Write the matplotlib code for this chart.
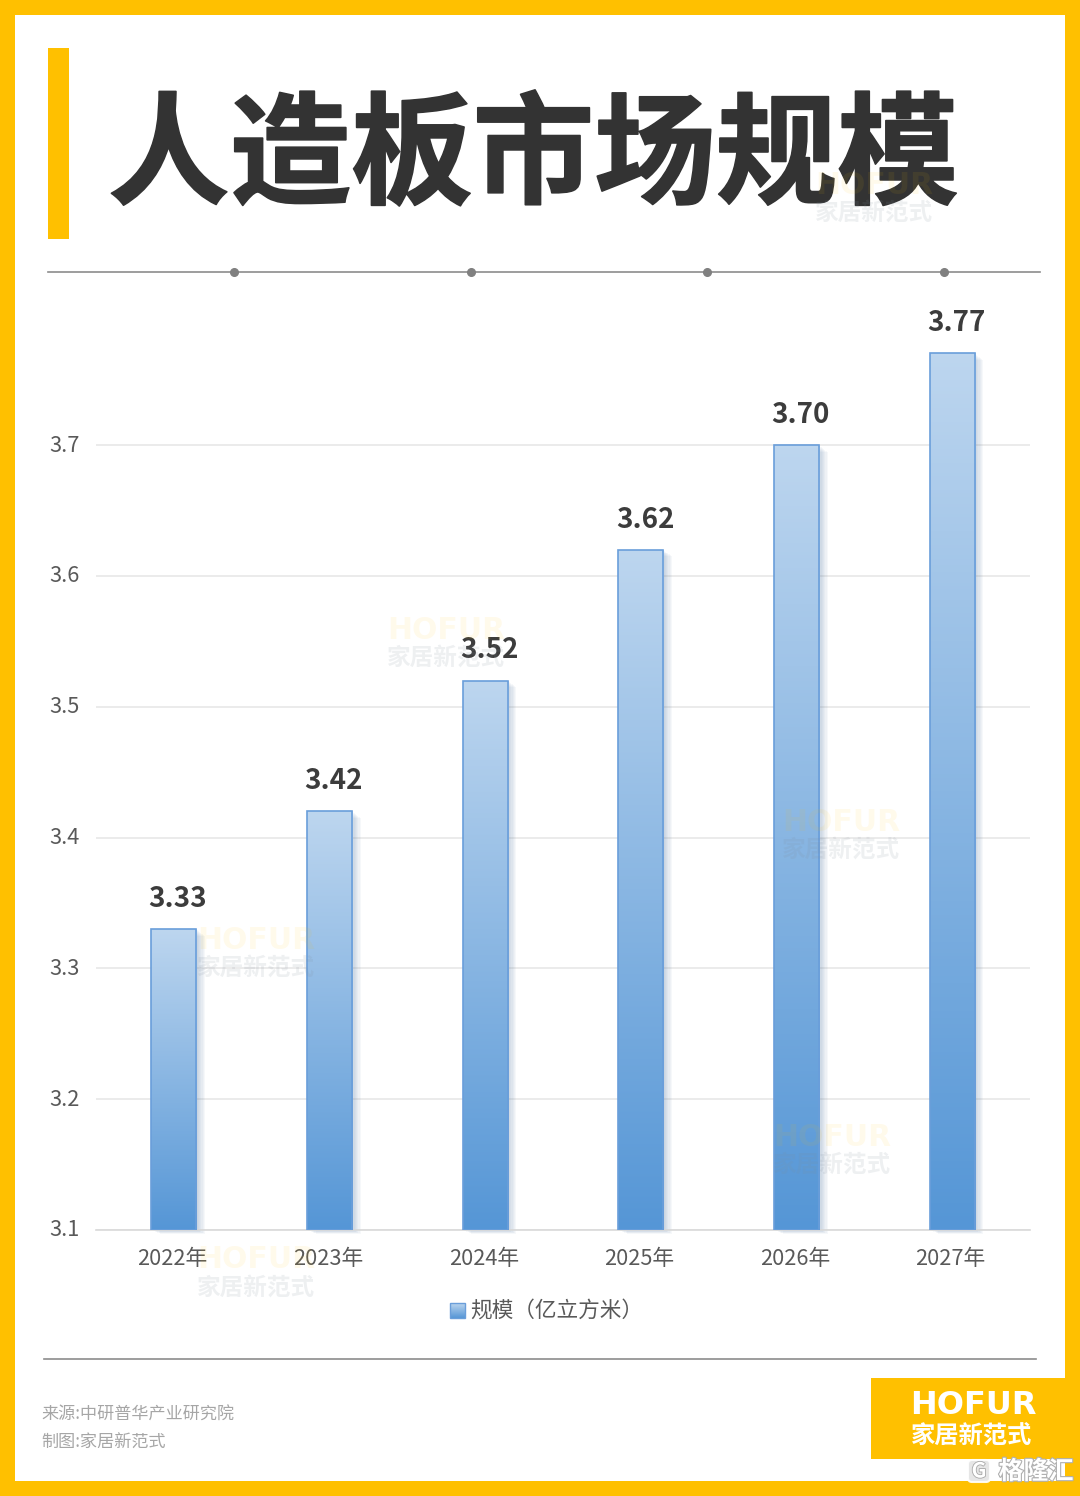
import numpy as np
import matplotlib
matplotlib.use('Agg')
import matplotlib.pyplot as plt
import matplotlib.patheffects as pe
from matplotlib.colors import LinearSegmentedColormap
from matplotlib.patches import Rectangle, FancyBboxPatch
from matplotlib.transforms import ScaledTranslation

plt.rcParams['font.family'] = ['Noto Sans CJK SC', 'DejaVu Sans']

# data
years = ['2022年', '2023年', '2024年', '2025年', '2026年', '2027年']
values = [3.33, 3.42, 3.52, 3.62, 3.70, 3.77]
value_labels = ['3.33', '3.42', '3.52', '3.62', '3.70', '3.77']
y_ticks = [3.1, 3.2, 3.3, 3.4, 3.5, 3.6, 3.7]
title = '人造板市场规模'
legend_label = '规模（亿立方米）'
source_lines = ['来源:中研普华产业研究院', '制图:家居新范式']

W, H = 1080, 1496
YELLOW = '#FFC000'
DARK = '#333333'
TICK = '#595959'
grad = LinearSegmentedColormap.from_list('bar', ['#BDD6EF', '#5596D6'])
ramp = np.linspace(0, 1, 256).reshape(-1, 1)

fig = plt.figure(figsize=(W / 100, H / 100), dpi=100, facecolor=YELLOW)

# background layer in pixels
bg = fig.add_axes([0, 0, 1, 1], zorder=0)
bg.set_xlim(0, W)
bg.set_ylim(H, 0)
bg.axis('off')
bg.add_patch(Rectangle((15, 15), 1050, 1466, fc='white', ec='none'))
bg.add_patch(Rectangle((48, 48), 21, 191, fc=YELLOW, ec='none'))
bg.text(108, 159, title, fontsize=87.5, fontweight='bold', color=DARK, va='center', ha='left',
        path_effects=[pe.withStroke(linewidth=1.2, foreground=DARK)])
bg.plot([48, 1040], [272, 272], color='#8c8c8c', lw=1.2)
bg.plot([234, 471, 707, 944], [272] * 4, 'o', color='#808080', ms=5.5)
bg.plot([44, 1036], [1359, 1359], color='#8c8c8c', lw=1.2)
for i, line in enumerate(source_lines):
    bg.text(41, 1415 + i * 28, line, fontsize=12.3, color='#a6a6a6', va='center', ha='left')

# logo block
bg.add_patch(Rectangle((871, 1378), 194, 81, fc=YELLOW, ec='none'))
bg.text(973, 1405, 'HOFUR', fontsize=23, fontweight='bold', family='DejaVu Sans', color='white', va='center', ha='center')
bg.text(972, 1436, '家居新范式', fontsize=17.5, fontweight='bold', color='white', va='center', ha='center')

# chart
left, right, top, bottom = 96, 1030, 314, 1230
ax = fig.add_axes([left / W, 1 - bottom / H, (right - left) / W, (bottom - top) / H], zorder=1)
ax.patch.set_alpha(0)
x = np.arange(len(years))
bar_w = 0.29

for i, v in enumerate(values):
    # soft shadow
    for k in range(1, 8):
        off = k * 0.008
        ax.add_patch(Rectangle((i - bar_w / 2 + off, 3.1 - off * 0.05), bar_w, v - 3.1 - off * 0.04,
                               fc='#5b7fa8', ec='none', alpha=0.05, zorder=2, clip_on=False))

bars = ax.bar(x, np.array(values) - 3.1, bar_w, bottom=3.1, facecolor='none',
              edgecolor='#6A9EDA', linewidth=1.2, zorder=4)
for rect, v in zip(bars, values):
    im = ax.imshow(ramp, cmap=grad, aspect='auto', zorder=3,
                   extent=(rect.get_x(), rect.get_x() + rect.get_width(), 3.1, v))
    im.set_clip_path(rect)

for xi, v, lab in zip(x, values, value_labels):
    ax.annotate(lab, (xi, v), xytext=(3, 21.7), textcoords='offset points', ha='center', va='center',
                fontsize=20, fontweight='bold', color='#3c3c3c', zorder=5)

ax.set_xlim(-0.5, 5.5)
ax.set_ylim(3.1, 3.1 + (bottom - top) / 1308.3)
ax.set_yticks(y_ticks)
ax.set_yticklabels([f'{t:.1f}' for t in y_ticks])
ax.set_xticks(x)
ax.set_xticklabels(years)
ax.tick_params(axis='both', length=0, labelsize=15.7, labelcolor=TICK)
ax.tick_params(axis='x', pad=13)
ax.tick_params(axis='y', pad=11.5)
# nudge labels a little, the reference sits slightly off centre
for lab in ax.get_xticklabels():
    lab.set_transform(lab.get_transform() + ScaledTranslation(-1.5 / 100, 0, fig.dpi_scale_trans))
for lab in ax.get_yticklabels():
    lab.set_transform(lab.get_transform() + ScaledTranslation(0, 2 / 100, fig.dpi_scale_trans))
ax.grid(axis='y', color='#E6E6E6', lw=1.1, zorder=1)
ax.set_axisbelow(True)
for s in ['top', 'right', 'left']:
    ax.spines[s].set_visible(False)
ax.spines['bottom'].set_color('#D9D9D9')
ax.spines['bottom'].set_linewidth(1.2)

# overlay: legend, watermarks, corner mark
fg = fig.add_axes([0, 0, 1, 1], zorder=2)
fg.imshow(ramp, cmap=grad, aspect='auto', extent=(450, 465, 1318, 1303), zorder=3)
fg.add_patch(Rectangle((450, 1303), 15, 15, fc='none', ec='#6A9EDA', lw=1, zorder=4))
fg.text(470, 1311, legend_label, fontsize=15.6, color=TICK, va='center', ha='left')
fg.set_xlim(0, W)
fg.set_ylim(H, 0)
fg.axis('off')
fg.patch.set_alpha(0)

marks = [(874, 185), (446, 630), (256, 940), (841, 822), (832, 1137), (256, 1260)]
for mx, my in marks:
    fg.text(mx, my, 'HOFUR', fontsize=21.5, fontweight='bold', family='DejaVu Sans',
            color=YELLOW, alpha=0.08, ha='center', va='center')
    fg.text(mx, my + 28, '家居新范式', fontsize=17, fontweight='bold',
            color='#7f8c99', alpha=0.13, ha='center', va='center')

fg.add_patch(FancyBboxPatch((970, 1462), 18, 18, boxstyle='round,pad=2,rounding_size=4',
                            fc='#e4e4e4', ec='white', lw=1.5, alpha=0.9))
fg.text(979, 1471, 'G', fontsize=15, fontweight='bold', color='white', ha='center', va='center',
        path_effects=[pe.withStroke(linewidth=1.2, foreground='#a8a8a8')])
fg.text(1036, 1472, '格隆汇', fontsize=18, fontweight='bold', color='white', ha='center', va='center',
        path_effects=[pe.withStroke(linewidth=1.6, foreground='#b0b0b0')])

fig.savefig('out.png', dpi=100, facecolor=fig.get_facecolor())
